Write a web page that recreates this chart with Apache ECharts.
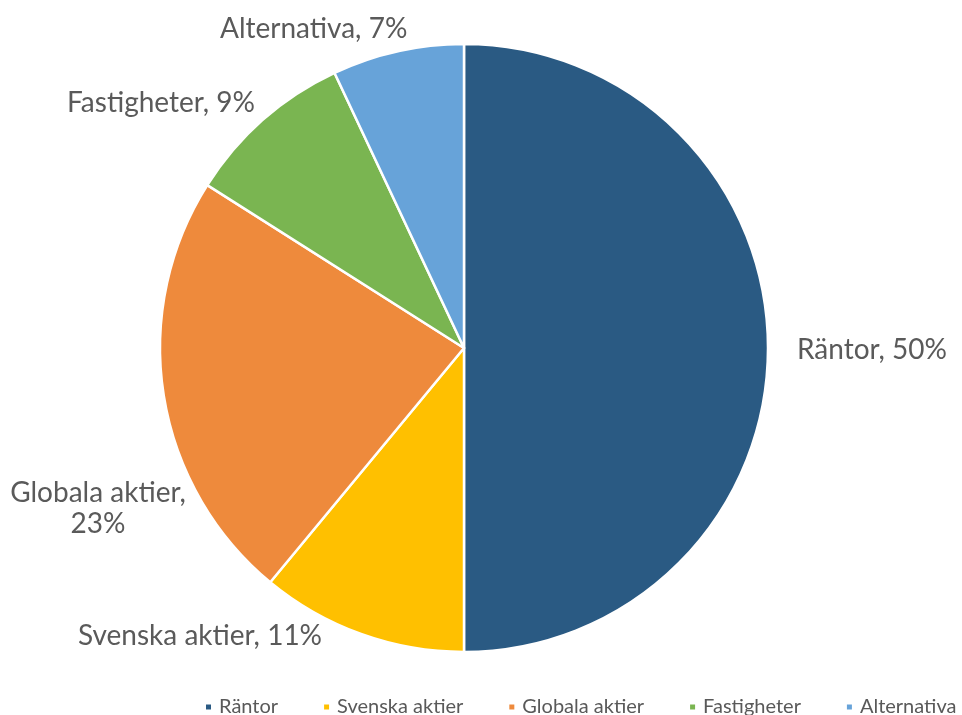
<!DOCTYPE html>
<html>
<head>
<meta charset="utf-8">
<script src="https://cdn.jsdelivr.net/npm/echarts@6/dist/echarts.min.js"></script>
<style>html,body{margin:0;padding:0;background:#fff}#c{width:962px;height:715px}</style>
</head>
<body>
<div id="c"></div>
<script>
const categories = ['Räntor', 'Svenska aktier', 'Globala aktier', 'Fastigheter', 'Alternativa'];
const values = [50, 11, 23, 9, 7];
const colors = ['#2A5A83', '#FFC000', '#EE8A3C', '#7AB551', '#67A3D9'];
// label anchor placement (layout only)
const labelAnchors = [
  {x: 797, y: 350, align: 'left'},
  {x: 78, y: 636, align: 'left'},
  {x: 98, y: 508, align: 'center'},
  {x: 67, y: 103, align: 'left'},
  {x: 220, y: 29, align: 'left'}
];
const wrapIndex = [2];

const chart = echarts.init(document.getElementById('c'));
chart.setOption({
  animation: false,
  backgroundColor: '#fff',
  color: colors,
  legend: {
    left: 204,
    top: 697,
    width: 758,
    padding: 0,
    itemWidth: 7,
    itemHeight: 7,
    itemGap: 44,
    icon: 'rect',
    textStyle: {fontFamily: 'Lato', fontSize: 20, color: '#595959', padding: [0, 0, 0, 2]},
    data: categories
  },
  series: [{
    type: 'pie',
    center: [464, 348],
    radius: [0, 304],
    startAngle: 90,
    clockwise: true,
    avoidLabelOverlap: false,
    itemStyle: {borderColor: '#fff', borderWidth: 2.5},
    label: {
      show: true,
      position: 'outside',
      fontFamily: 'Lato',
      fontSize: 28,
      lineHeight: 31,
      color: '#5a5a5a',
      formatter: function (p) {
        return wrapIndex.indexOf(p.dataIndex) >= 0 ? p.name + ',\n' + p.value + '%' : p.name + ', ' + p.value + '%';
      }
    },
    labelLine: {show: false},
    labelLayout: function (p) {
      const a = labelAnchors[p.dataIndex];
      return {x: a.x, y: a.y, align: a.align, verticalAlign: 'middle'};
    },
    emphasis: {disabled: true},
    data: categories.map((n, i) => ({name: n, value: values[i]}))
  }]
});
</script>
</body>
</html>
